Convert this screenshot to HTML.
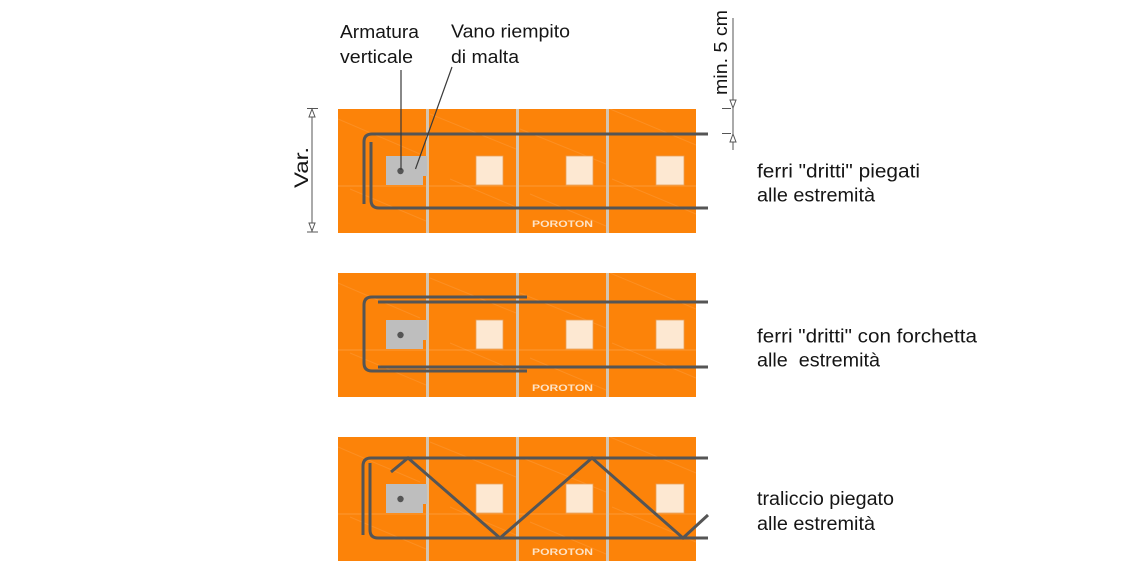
<!DOCTYPE html>
<html>
<head>
<meta charset="utf-8">
<style>
  html,body{margin:0;padding:0;background:#fff;}
  svg{display:block;}
  text{font-family:"Liberation Sans",sans-serif;fill:#151515;}
</style>
</head>
<body>
<svg width="1128" height="567" viewBox="0 0 1128 567" xmlns="http://www.w3.org/2000/svg">
  <defs>
    <g id="block">
      <rect x="338" y="0" width="358" height="124" fill="#FC8309"/>
      <!-- faint diagonal texture (upper-left to lower-right) -->
      <g stroke="#ffffff" stroke-opacity="0.10" stroke-width="1">
        <line x1="338" y1="10" x2="420" y2="45"/>
        <line x1="350" y1="80" x2="426" y2="112"/>
        <line x1="430" y1="5" x2="516" y2="40"/>
        <line x1="450" y1="70" x2="516" y2="98"/>
        <line x1="520" y1="20" x2="606" y2="55"/>
        <line x1="530" y1="85" x2="606" y2="117"/>
        <line x1="610" y1="0" x2="696" y2="36"/>
        <line x1="612" y1="70" x2="696" y2="105"/>
      </g>
      <line x1="338" y1="77" x2="696" y2="77" stroke="#ffffff" stroke-opacity="0.18" stroke-width="1"/>
      <!-- separators -->
      <rect x="426" y="0" width="3" height="124" fill="#D3C5B2"/>
      <rect x="516" y="0" width="3" height="124" fill="#D3C5B2"/>
      <rect x="606" y="0" width="3" height="124" fill="#D3C5B2"/>
      <!-- gray mortar box -->
      <path d="M386,47 H427 V67 H423 V76 H386 Z" fill="#BEBEBE"/>
      <circle cx="400.5" cy="62" r="3.2" fill="#555"/>
      <!-- light squares -->
      <rect x="476" y="47" width="27" height="29" fill="#FDE8D2" stroke="#E9A05A" stroke-width="0.8"/>
      <rect x="566" y="47" width="27" height="29" fill="#FDE8D2" stroke="#E9A05A" stroke-width="0.8"/>
      <rect x="656" y="47" width="28" height="29" fill="#FDE8D2" stroke="#E9A05A" stroke-width="0.8"/>
      <text x="562.5" y="118" text-anchor="middle" font-size="9" font-weight="bold" textLength="61" lengthAdjust="spacingAndGlyphs" style="fill:#FDE3C6">POROTON</text>
    </g>
  </defs>

  <!-- Block 1 -->
  <use href="#block" transform="translate(0,109)"/>
  <g fill="none" stroke="#555" stroke-width="3" stroke-linecap="butt">
    <path d="M708,134 H372 Q364,134 364,142 V204"/>
    <path d="M708,208 H379 Q371,208 371,200 V142"/>
  </g>

  <!-- Block 2 -->
  <use href="#block" transform="translate(0,273)"/>
  <g fill="none" stroke="#555" stroke-width="3">
    <path d="M527,297 H372 Q364,297 364,305 V363 Q364,371 372,371 H527"/>
    <path d="M378,302 H708"/>
    <path d="M378,367 H708"/>
  </g>

  <!-- Block 3 -->
  <use href="#block" transform="translate(0,437)"/>
  <g fill="none" stroke="#555" stroke-width="3" stroke-linejoin="miter">
    <path d="M708,458 H371 Q363,458 363,466 V535"/>
    <path d="M708,538 H378 Q370,538 370,530 V463"/>
    <path d="M391,472 L408,458 L500,538 L592,458 L683,538 L708,515"/>
  </g>

  <!-- Leader lines -->
  <g stroke="#3a3a3a" stroke-width="1.2">
    <line x1="401" y1="70" x2="401" y2="170"/>
    <line x1="452" y1="67" x2="415.5" y2="169"/>
  </g>

  <!-- Var. dimension -->
  <g stroke="#555" stroke-width="1" fill="#fff">
    <line x1="312" y1="108" x2="312" y2="232"/>
    <line x1="307" y1="108.5" x2="318" y2="108.5"/>
    <line x1="307" y1="232" x2="318" y2="232"/>
    <path d="M312,109 L309,117 L315,117 Z"/>
    <path d="M312,231 L309,223 L315,223 Z"/>
  </g>
  <text transform="translate(308,167.5) rotate(-90)" text-anchor="middle" font-size="19" textLength="41" lengthAdjust="spacingAndGlyphs">Var.</text>

  <!-- min. 5 cm dimension -->
  <g stroke="#555" stroke-width="1" fill="#fff">
    <line x1="733" y1="18" x2="733" y2="150"/>
    <line x1="722" y1="108.5" x2="731" y2="108.5"/>
    <line x1="722" y1="133.5" x2="731" y2="133.5"/>
    <path d="M733,108 L730,100 L736,100 Z"/>
    <path d="M733,134 L730,142 L736,142 Z"/>
  </g>
  <text transform="translate(727,52.5) rotate(-90)" text-anchor="middle" font-size="18" textLength="85" lengthAdjust="spacingAndGlyphs">min. 5 cm</text>

  <!-- Top labels -->
  <text x="340" y="38" font-size="18" textLength="79" lengthAdjust="spacingAndGlyphs">Armatura</text>
  <text x="340" y="63" font-size="18" textLength="73" lengthAdjust="spacingAndGlyphs">verticale</text>
  <text x="451" y="37.5" font-size="18" textLength="119" lengthAdjust="spacingAndGlyphs">Vano riempito</text>
  <text x="451" y="63" font-size="18" textLength="68" lengthAdjust="spacingAndGlyphs">di malta</text>

  <!-- Right labels -->
  <text x="757" y="177.5" font-size="19" textLength="163" lengthAdjust="spacingAndGlyphs">ferri "dritti" piegati</text>
  <text x="757" y="201.5" font-size="19" textLength="118" lengthAdjust="spacingAndGlyphs">alle estremità</text>

  <text x="757" y="342.5" font-size="19" textLength="220" lengthAdjust="spacingAndGlyphs">ferri "dritti" con forchetta</text>
  <text x="757" y="366.5" font-size="19" textLength="123" lengthAdjust="spacingAndGlyphs" xml:space="preserve">alle  estremità</text>

  <text x="757" y="505" font-size="19" textLength="137" lengthAdjust="spacingAndGlyphs">traliccio piegato</text>
  <text x="757" y="530" font-size="19" textLength="118" lengthAdjust="spacingAndGlyphs">alle estremità</text>
</svg>
</body>
</html>
